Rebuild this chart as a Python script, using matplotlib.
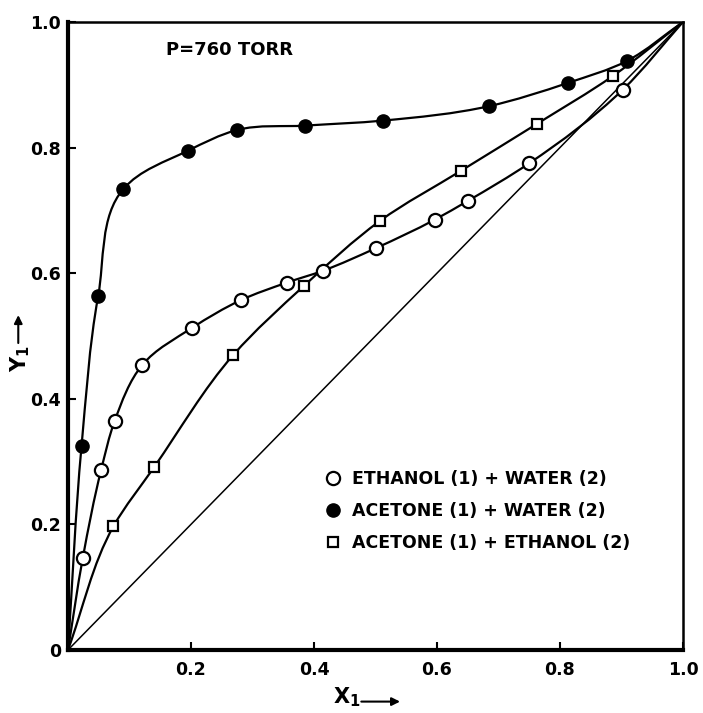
import numpy as np
import matplotlib
matplotlib.use('Agg')
import matplotlib.pyplot as plt
from matplotlib.lines import Line2D
from matplotlib.path import Path
from matplotlib.patches import PathPatch

# datos (x1 liquido, y1 vapor), P = 760 torr
x_etanol_agua = [0.0, 0.024, 0.054, 0.076, 0.121, 0.202, 0.281, 0.356, 0.415, 0.501, 0.596, 0.650, 0.750, 0.902, 1.0]
y_etanol_agua = [0.0, 0.146, 0.287, 0.365, 0.454, 0.513, 0.557, 0.585, 0.604, 0.640, 0.685, 0.715, 0.775, 0.892, 1.0]

x_acetona_agua = [0.0, 0.022, 0.049, 0.090, 0.195, 0.275, 0.386, 0.513, 0.685, 0.813, 0.909, 1.0]
y_acetona_agua = [0.0, 0.324, 0.563, 0.734, 0.795, 0.828, 0.835, 0.843, 0.866, 0.903, 0.938, 1.0]

x_acetona_etanol = [0.0, 0.074, 0.140, 0.269, 0.384, 0.507, 0.639, 0.763, 0.886, 1.0]
y_acetona_etanol = [0.0, 0.197, 0.291, 0.470, 0.580, 0.683, 0.763, 0.838, 0.914, 1.0]

diagonal = [0.0, 1.0]

x_ticks = [0.2, 0.4, 0.6, 0.8, 1.0]
x_ticklabels = ['0.2', '0.4', '0.6', '0.8', '1.0']
y_ticks = [0.0, 0.2, 0.4, 0.6, 0.8, 1.0]
y_ticklabels = ['0', '0.2', '0.4', '0.6', '0.8', '1.0']

etiquetas = ['ETHANOL (1) + WATER (2)', 'ACETONE (1) + WATER (2)', 'ACETONE (1) + ETHANOL (2)']


def curva_suave(ax, xs, ys, **kw):
    # curva bezier que pasa por los puntos medidos (solo para dibujar)
    p = np.column_stack([xs, ys])
    n = len(p)
    tang = np.zeros_like(p)
    for i in range(n):
        if i == 0:
            d = p[1] - p[0]
        elif i == n - 1:
            d = p[-1] - p[-2]
        else:
            a = p[i] - p[i - 1]
            b = p[i + 1] - p[i]
            la, lb = np.hypot(*a), np.hypot(*b)
            d = a / la * lb + b / lb * la
        tang[i] = d / np.hypot(*d)
    verts = [p[0]]
    codes = [Path.MOVETO]
    for i in range(n - 1):
        L = np.hypot(*(p[i + 1] - p[i])) / 3.0
        verts += [p[i] + tang[i] * L, p[i + 1] - tang[i + 1] * L, p[i + 1]]
        codes += [Path.CURVE4] * 3
    ax.add_patch(PathPatch(Path(verts, codes), fill=False, **kw))


plt.rcParams['font.family'] = ['DejaVu Sans']
plt.rcParams['font.weight'] = 'bold'

fig = plt.figure(figsize=(7.03, 7.13), dpi=100)
ax = fig.add_axes([0.0967, 0.0884, 0.8748, 0.8808])

# curvas
ax.plot(diagonal, diagonal, color='black', lw=1.1)
curva_suave(ax, x_etanol_agua, y_etanol_agua, color='black', lw=1.6)
curva_suave(ax, x_acetona_agua, y_acetona_agua, color='black', lw=1.6)
curva_suave(ax, x_acetona_etanol, y_acetona_etanol, color='black', lw=1.6)

# marcadores (los extremos 0 y 1 van sin marcador)
ax.plot(x_etanol_agua[1:-1], y_etanol_agua[1:-1], 'o', ms=9.5, mfc='white', mec='black', mew=1.6, ls='none')
ax.plot(x_acetona_agua[1:-1], y_acetona_agua[1:-1], 'o', ms=9.5, mfc='black', mec='black', ls='none')
ax.plot(x_acetona_etanol[1:-1], y_acetona_etanol[1:-1], 's', ms=7.5, mfc='white', mec='black', mew=1.6, ls='none')

ax.set_xlim(0, 1)
ax.set_ylim(0, 1)
ax.set_xticks(x_ticks)
ax.set_xticklabels(x_ticklabels)
ax.set_yticks(y_ticks)
ax.set_yticklabels(y_ticklabels)
ax.tick_params(direction='in', length=6, width=1.5, labelsize=12.5)
ax.tick_params(axis='x', pad=8)
ax.tick_params(axis='y', pad=5)

ax.spines['left'].set_linewidth(3)
ax.spines['bottom'].set_linewidth(3)
ax.spines['top'].set_linewidth(1.8)
ax.spines['right'].set_linewidth(1.8)

ax.text(0.16, 0.955, 'P=760 TORR', fontsize=13, va='center', ha='left')

handles = [
    Line2D([], [], marker='o', ls='none', ms=9.5, mfc='white', mec='black', mew=1.6),
    Line2D([], [], marker='o', ls='none', ms=9.5, mfc='black', mec='black'),
    Line2D([], [], marker='s', ls='none', ms=7, mfc='white', mec='black', mew=1.6),
]
ax.legend(handles, etiquetas, loc='upper left', bbox_to_anchor=(0.405, 0.297), frameon=False,
          fontsize=12.5, handlelength=1.0, handletextpad=0.6, labelspacing=0.8, borderaxespad=0)

# etiquetas de ejes con flecha
fig.text(0.474, 0.006, 'X$_\\mathregular{1}$', fontsize=15, ha='left', va='bottom')
ax.annotate('', xy=(0.573, 0.016), xytext=(0.51, 0.016), xycoords='figure fraction',
            arrowprops=dict(arrowstyle='-|>', color='black', lw=1.5, mutation_scale=12))
fig.text(0.012, 0.478, 'Y$_\\mathregular{1}$', fontsize=15, rotation=90, ha='left', va='bottom')
ax.annotate('', xy=(0.026, 0.562), xytext=(0.026, 0.515), xycoords='figure fraction',
            arrowprops=dict(arrowstyle='-|>', color='black', lw=1.5, mutation_scale=12))

fig.savefig('out.png', dpi=100, facecolor='white')
